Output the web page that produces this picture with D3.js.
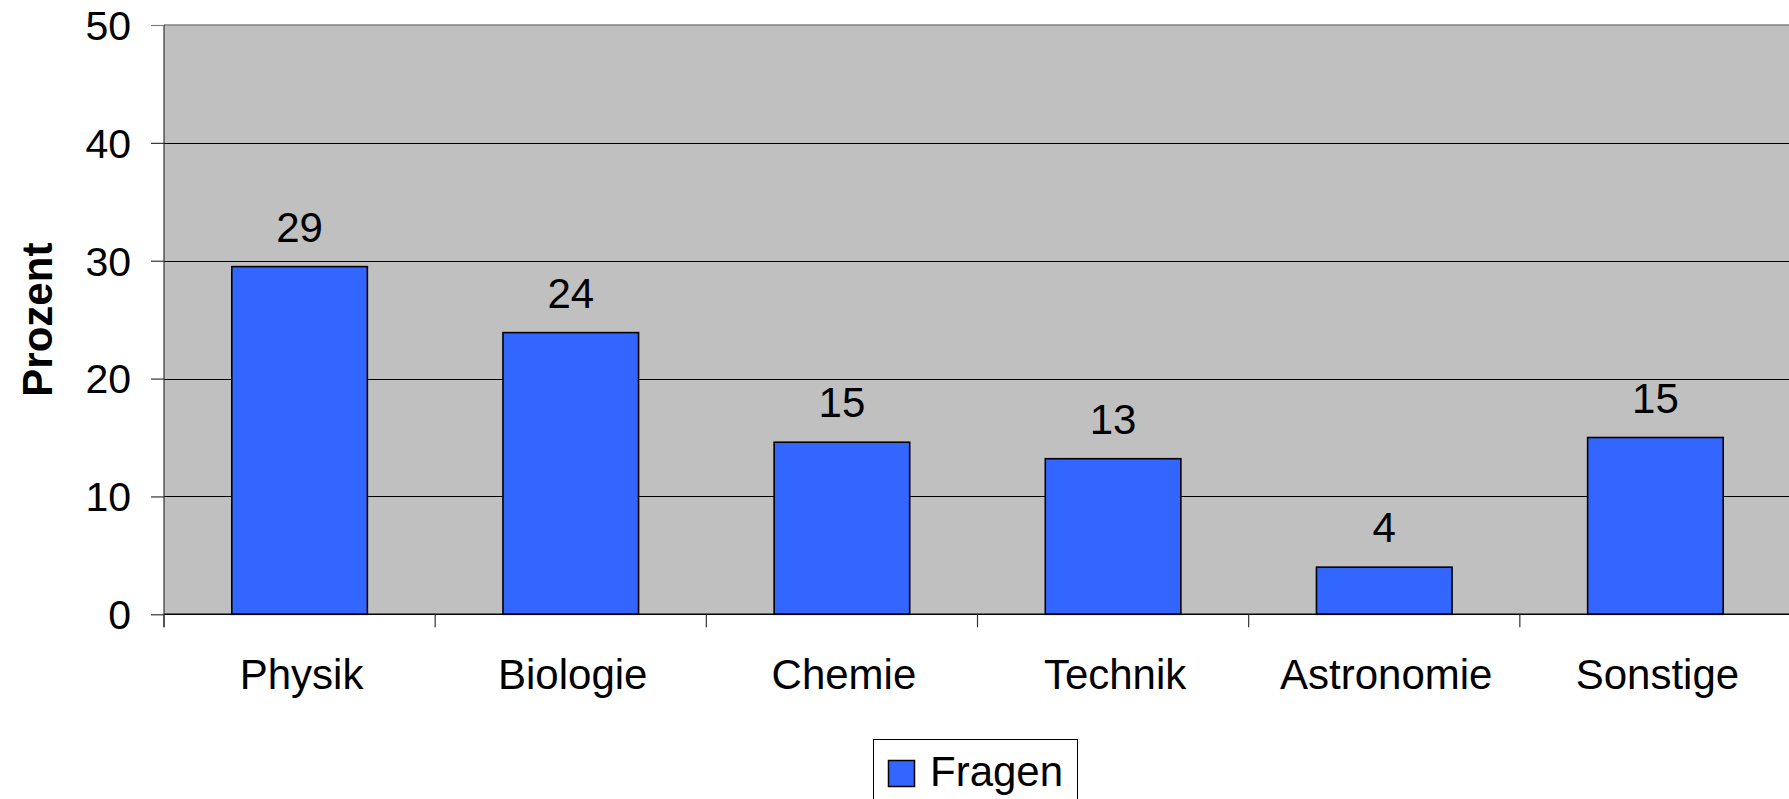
<!DOCTYPE html>
<html>
<head>
<meta charset="utf-8">
<script src="https://cdn.jsdelivr.net/npm/d3@7"></script>
<style>
  html, body { margin: 0; padding: 0; background: #fff; overflow: hidden; }
  svg { display: block; font-family: "Liberation Sans", Arial, sans-serif; }
</style>
</head>
<body>
<svg id="chart" width="1789" height="799"></svg>
<script>
const categories = ["Physik", "Biologie", "Chemie", "Technik", "Astronomie", "Sonstige"];
const values = [29.5, 23.9, 14.6, 13.2, 4.0, 15.0];
const valueLabels = ["29", "24", "15", "13", "4", "15"];
const yTicks = [0, 10, 20, 30, 40, 50];
const seriesName = "Fragen";
const yTitle = "Prozent";

(function () {
const svg = d3.select("#chart");
const pLeft = 164, pRight = 1791, pTop = 25, pBottom = 614.3;

const x = d3.scaleBand().domain(categories).range([pLeft, pRight])
  .paddingInner(0.5).paddingOuter(0.25);
const y = d3.scaleLinear().domain([0, 50]).range([pBottom, pTop]);

// plot background
svg.append("rect").attr("x", pLeft).attr("y", pTop)
  .attr("width", pRight - pLeft).attr("height", pBottom - pTop)
  .attr("fill", "#c0c0c0");

// gridlines
svg.append("g").selectAll("line").data(yTicks.filter(d => d > 0 && d < 50)).join("line")
  .attr("x1", pLeft).attr("x2", pRight)
  .attr("y1", d => Math.round(y(d)) + 0.5).attr("y2", d => Math.round(y(d)) + 0.5)
  .attr("stroke", "#000").attr("stroke-width", 1);
// top border
svg.append("line").attr("x1", pLeft).attr("x2", pRight)
  .attr("y1", y(50)).attr("y2", y(50))
  .attr("stroke", "#808080").attr("stroke-width", 1.5);

// bars
svg.append("g").selectAll("rect").data(categories).join("rect")
  .attr("x", d => x(d)).attr("width", x.bandwidth())
  .attr("y", (d, i) => y(values[i])).attr("height", (d, i) => y(0) - y(values[i]))
  .attr("fill", "#3366ff").attr("stroke", "#000").attr("stroke-width", 1.6);

// value labels
svg.append("g").selectAll("text").data(categories).join("text")
  .attr("x", d => x(d) + x.bandwidth() / 2)
  .attr("y", (d, i) => y(values[i]) - 25)
  .attr("text-anchor", "middle").attr("font-size", 42).attr("fill", "#000")
  .text((d, i) => valueLabels[i]);

// y axis
const yAxis = d3.axisLeft(y).tickValues(yTicks).tickSize(13).tickPadding(20);
const gy = svg.append("g").attr("transform", `translate(${pLeft},0)`).call(yAxis);
gy.select(".domain").attr("stroke", "#333").attr("stroke-width", 1.2)
  .attr("d", `M0,${pTop}V${pBottom + 13}`);
gy.selectAll(".tick line").attr("stroke", "#333").attr("stroke-width", 1.2);
gy.selectAll(".tick").filter(d => d === 50).select("line").attr("stroke", "#808080");
gy.selectAll(".tick text").attr("font-size", 41).attr("fill", "#000")
  .attr("font-family", "Liberation Sans, Arial, sans-serif").attr("dy", "0.35em");

// x axis
const step = x.step();
const boundaries = d3.range(categories.length + 1).map(i => pLeft + i * step);
svg.append("line").attr("x1", pLeft).attr("x2", pRight)
  .attr("y1", pBottom).attr("y2", pBottom).attr("stroke", "#000").attr("stroke-width", 1.5);
svg.append("g").selectAll("line").data(boundaries).join("line")
  .attr("x1", d => d).attr("x2", d => d)
  .attr("y1", pBottom).attr("y2", pBottom + 13)
  .attr("stroke", "#333").attr("stroke-width", 1.2);
svg.append("g").selectAll("text").data(categories).join("text")
  .attr("x", d => x(d) + x.bandwidth() / 2 + 2)
  .attr("y", 689)
  .attr("text-anchor", "middle").attr("font-size", 42).attr("fill", "#000")
  .text(d => d);

// y title
svg.append("text")
  .attr("transform", `translate(52,${(pTop + pBottom) / 2}) rotate(-90)`)
  .attr("text-anchor", "middle").attr("font-size", 42).attr("font-weight", "bold")
  .attr("fill", "#000").text(yTitle);

// legend
const lg = svg.append("g");
lg.append("rect").attr("x", 873.5).attr("y", 739.5).attr("width", 204).attr("height", 80)
  .attr("fill", "#fff").attr("stroke", "#000").attr("stroke-width", 1);
lg.append("rect").attr("x", 888.5).attr("y", 760.5).attr("width", 26).attr("height", 26)
  .attr("fill", "#3366ff").attr("stroke", "#000").attr("stroke-width", 1.5);
lg.append("text").attr("x", 930).attr("y", 786).attr("font-size", 42).attr("fill", "#000")
  .text(seriesName);
})();
</script>
</body>
</html>
